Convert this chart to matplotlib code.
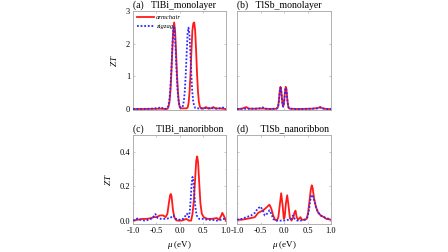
import matplotlib
matplotlib.use("Agg")
import matplotlib.pyplot as plt

plt.rcParams['font.family'] = ['Liberation Serif', 'DejaVu Serif']
plt.rcParams['mathtext.fontset'] = 'custom'
plt.rcParams['mathtext.it'] = 'Liberation Serif:italic'
plt.rcParams['mathtext.rm'] = 'Liberation Serif'

# ---- Data (mu in eV, ZT) ----
a_arm_mu = [-1.0, -0.8, -0.6, -0.4, -0.3, -0.255, -0.235, -0.215, -0.195, -0.175, -0.155, -0.135, -0.115, -0.095,
            -0.075, -0.055, -0.035, -0.015, 0.005, 0.03, 0.1, 0.15, 0.177, 0.197, 0.217, 0.237, 0.257, 0.277, 0.297,
            0.317, 0.337, 0.357, 0.377, 0.397, 0.417, 0.437, 0.46, 0.5, 0.57, 0.62, 0.67, 0.73, 0.78, 0.85, 0.92, 1.0]
a_arm_zt = [0.0, 0.0, 0.005, 0.01, 0.0, 0.01, 0.08, 0.22, 0.55, 1.09, 1.79, 2.4, 2.65, 2.4,
            1.79, 1.09, 0.55, 0.22, 0.05, 0.02, 0.02, 0.02, 0.05, 0.2, 0.55, 1.09, 1.79, 2.4, 2.62,
            2.65, 2.4, 1.79, 1.09, 0.55, 0.22, 0.08, 0.02, 0.01, 0.06, 0.01, 0.02, 0.06, 0.01, 0.02, 0.01, 0.0]

a_zig_mu = [-1.0, -0.6, -0.45, -0.4, -0.35, -0.28, -0.26, -0.24, -0.22, -0.2, -0.18, -0.16, -0.14, -0.12, -0.10,
            -0.08, -0.06, -0.04, -0.02, 0.0, 0.02, 0.04, 0.06, 0.074, 0.094, 0.114, 0.134, 0.154, 0.174, 0.194, 0.214,
            0.234, 0.254, 0.274, 0.294, 0.314, 0.34, 0.4, 0.6, 0.75, 0.86, 0.92, 0.96, 1.0]
a_zig_zt = [0.0, 0.01, 0.03, 0.06, 0.01, 0.01, 0.03, 0.1, 0.25, 0.55, 1.05, 1.7, 2.3, 2.54, 2.3,
            1.7, 1.05, 0.55, 0.25, 0.1, 0.05, 0.04, 0.05, 0.1, 0.25, 0.55, 1.05, 1.7, 2.3, 2.49, 2.3,
            1.7, 1.05, 0.55, 0.25, 0.1, 0.03, 0.02, 0.03, 0.02, 0.02, 0.06, 0.02, 0.0]

b_arm_mu = [-1.0, -0.9, -0.8, -0.75, -0.6, -0.5, -0.3, -0.16, -0.134, -0.124, -0.114, -0.104, -0.094, -0.084, -0.074,
            -0.064, -0.054, -0.044, -0.034, -0.024, -0.018, -0.011, -0.001, 0.009, 0.019, 0.029, 0.039, 0.049, 0.059,
            0.069, 0.079, 0.089, 0.099, 0.12, 0.3, 0.6, 0.72, 0.77, 0.82, 0.9, 1.0]
b_arm_zt = [0.0, 0.01, 0.06, 0.01, 0.01, 0.02, 0.0, 0.01, 0.04, 0.09, 0.19, 0.33, 0.5, 0.63, 0.68,
            0.63, 0.5, 0.33, 0.19, 0.1, 0.08, 0.1, 0.19, 0.33, 0.5, 0.63, 0.68, 0.63, 0.5,
            0.33, 0.19, 0.09, 0.04, 0.01, 0.0, 0.01, 0.03, 0.06, 0.02, 0.0, 0.0]

b_zig_mu = [-1.0, -0.8, -0.6, -0.5, -0.45, -0.4, -0.3, -0.16, -0.134, -0.124, -0.114, -0.104, -0.094, -0.084, -0.074,
            -0.064, -0.054, -0.044, -0.034, -0.024, -0.018, -0.011, -0.001, 0.009, 0.019, 0.029, 0.039, 0.049, 0.059,
            0.069, 0.079, 0.089, 0.099, 0.12, 0.3, 0.6, 0.72, 0.77, 0.82, 0.9, 1.0]
b_zig_zt = [0.0, 0.01, 0.01, 0.02, 0.05, 0.01, 0.0, 0.01, 0.04, 0.09, 0.18, 0.31, 0.48, 0.6, 0.65,
            0.6, 0.48, 0.31, 0.18, 0.09, 0.07, 0.09, 0.18, 0.31, 0.48, 0.6, 0.65, 0.6, 0.48,
            0.31, 0.18, 0.09, 0.04, 0.01, 0.0, 0.01, 0.02, 0.05, 0.02, 0.0, 0.0]

c_arm_mu = [-1.0, -0.9, -0.8, -0.7, -0.6, -0.55, -0.5, -0.42, -0.35, -0.3, -0.26, -0.23, -0.2, -0.186, -0.17,
            -0.14, -0.11, -0.08, -0.05, 0.0, 0.05, 0.1, 0.15, 0.2, 0.25, 0.28, 0.31, 0.34, 0.36, 0.38, 0.4, 0.42,
            0.45, 0.48, 0.52, 0.6, 0.7, 0.8, 0.85, 0.9, 0.92, 0.95, 1.0]
c_arm_zt = [0.0, 0.005, 0.01, 0.01, 0.015, 0.02, 0.02, 0.03, 0.03, 0.02, 0.04, 0.1, 0.15, 0.155, 0.14,
            0.06, 0.02, 0.005, 0.0, 0.0, 0.0, 0.005, 0.01, 0.0, 0.0, 0.04, 0.12, 0.26, 0.35, 0.375, 0.34, 0.24,
            0.1, 0.04, 0.02, 0.01, 0.01, 0.015, 0.005, 0.03, 0.045, 0.03, 0.0]

c_zig_mu = [-1.0, -0.95, -0.91, -0.85, -0.75, -0.65, -0.58, -0.52, -0.47, -0.4, -0.3, -0.2, -0.13, -0.08, 0.0, 0.08,
            0.12, 0.16, 0.2, 0.22, 0.24, 0.26, 0.28, 0.3, 0.32, 0.34, 0.37, 0.42, 0.5, 0.6, 0.7, 0.8, 0.9, 0.95, 1.0]
c_zig_zt = [0.0, 0.005, 0.012, 0.005, 0.0, 0.005, 0.015, 0.038, 0.015, 0.01, 0.01, 0.015, 0.03, 0.01, 0.005, 0.01,
            0.025, 0.04, 0.02, 0.05, 0.12, 0.21, 0.255, 0.23, 0.15, 0.08, 0.03, 0.01, 0.01, 0.005, 0.005, 0.0, 0.005,
            0.01, 0.0]

d_arm_mu = [-1.0, -0.9, -0.8, -0.7, -0.62, -0.55, -0.48, -0.42, -0.36, -0.31, -0.27, -0.23, -0.19, -0.15, -0.12,
            -0.09, -0.06, -0.03, -0.005, 0.015, 0.04, 0.068, 0.095, 0.125, 0.16, 0.2, 0.22, 0.245, 0.27, 0.3, 0.35,
            0.38, 0.42, 0.48, 0.51, 0.54, 0.57, 0.59, 0.61, 0.64, 0.68, 0.72, 0.78, 0.85, 0.9, 1.0]
d_arm_zt = [0.005, 0.005, 0.01, 0.015, 0.02, 0.045, 0.055, 0.065, 0.08, 0.093, 0.07, 0.03, 0.005, 0.0, 0.02,
            0.09, 0.16, 0.09, 0.01, 0.02, 0.1, 0.148, 0.09, 0.015, 0.0, 0.02, 0.045, 0.058, 0.02, 0.005, 0.02,
            0.005, 0.005, 0.01, 0.04, 0.11, 0.18, 0.206, 0.19, 0.13, 0.08, 0.05, 0.03, 0.02, 0.01, 0.005]

d_zig_mu = [-1.0, -0.9, -0.8, -0.7, -0.62, -0.56, -0.5, -0.45, -0.41, -0.36, -0.31, -0.27, -0.23, -0.18, -0.1,
            0.0, 0.1, 0.15, 0.19, 0.23, 0.28, 0.35, 0.45, 0.5, 0.53, 0.56, 0.59, 0.61, 0.64, 0.68, 0.72, 0.78, 0.85,
            0.95, 1.0]
d_zig_zt = [0.005, 0.01, 0.02, 0.03, 0.045, 0.07, 0.082, 0.06, 0.03, 0.04, 0.06, 0.04, 0.01, 0.0, 0.0,
            0.0, 0.005, 0.01, 0.03, 0.01, 0.0, 0.0, 0.005, 0.02, 0.06, 0.12, 0.15, 0.148, 0.12, 0.08, 0.05, 0.03,
            0.02, 0.01, 0.005]

panels = [
    ("(a)   TlBi_monolayer", a_arm_mu, a_arm_zt, a_zig_mu, a_zig_zt),
    ("(b)   TlSb_monolayer", b_arm_mu, b_arm_zt, b_zig_mu, b_zig_zt),
    ("(c)     TlBi_nanoribbon", c_arm_mu, c_arm_zt, c_zig_mu, c_zig_zt),
    ("(d)     TlSb_nanoribbon", d_arm_mu, d_arm_zt, d_zig_mu, d_zig_zt),
]

W, H = 448, 252
fig = plt.figure(figsize=(W / 100, H / 100), dpi=100)
boxes = [(133, 11, 226, 110), (237, 11, 331, 110), (133, 135, 226, 224), (237, 135, 331, 224)]

spine_col = '#b0b0b0'
for i, ((title, am, az, zm, zz), (x0, y0, x1, y1)) in enumerate(zip(panels, boxes)):
    ax = fig.add_axes([x0 / W, 1 - y1 / H, (x1 - x0) / W, (y1 - y0) / H])
    ax.plot(am, az, color='#ff1a1a', lw=1.3, label='armchair', zorder=2)
    ax.plot(zm, zz, color='#2a2aff', lw=1.3, ls=(0, (1, 1)), label='zigzag', zorder=3)
    ax.set_xlim(-1.0, 1.0)
    ax.set_xticks([-1.0, -0.5, 0.0, 0.5, 1.0])
    if i < 2:
        ax.set_ylim(-0.03, 3.0)
        ax.set_yticks([0, 1, 2, 3])
        ax.tick_params(labelbottom=False)
    else:
        ax.set_ylim(-0.02, 0.5)
        ax.set_yticks([0.0, 0.2, 0.4])
        ax.set_yticks([0.1, 0.3], minor=True)
        ax.set_xticklabels(['-1.0', '-0.5', '0.0', '0.5', '1.0'])
        ax.set_xlabel(r'$\mu$ (eV)', fontsize=6.5, labelpad=3)
    if i % 2 == 0:
        ax.set_ylabel(r'$ZT$', fontsize=6.5, labelpad=5)
        if i == 2:
            ax.set_yticklabels(['0.0', '0.2', '0.4'])
    else:
        ax.tick_params(labelleft=False)
    ax.tick_params(direction='in', length=1.5, width=0.5, color=spine_col, labelsize=6, pad=2,
                   top=True, right=True)
    ax.tick_params(which='minor', direction='in', length=1, width=0.5, color=spine_col, right=True, left=True)
    for s in ax.spines.values():
        s.set_color(spine_col)
        s.set_linewidth(0.7)
    ax.set_title(title, fontsize=7, loc='left', pad=2)
    if i == 0:
        ax.legend(loc='upper left', frameon=False, handlelength=2.6,
                  borderaxespad=0.15, labelspacing=0.45, handletextpad=0.3,
                  prop={'style': 'italic', 'size': 4.8})

fig.savefig('out.png', dpi=100)
